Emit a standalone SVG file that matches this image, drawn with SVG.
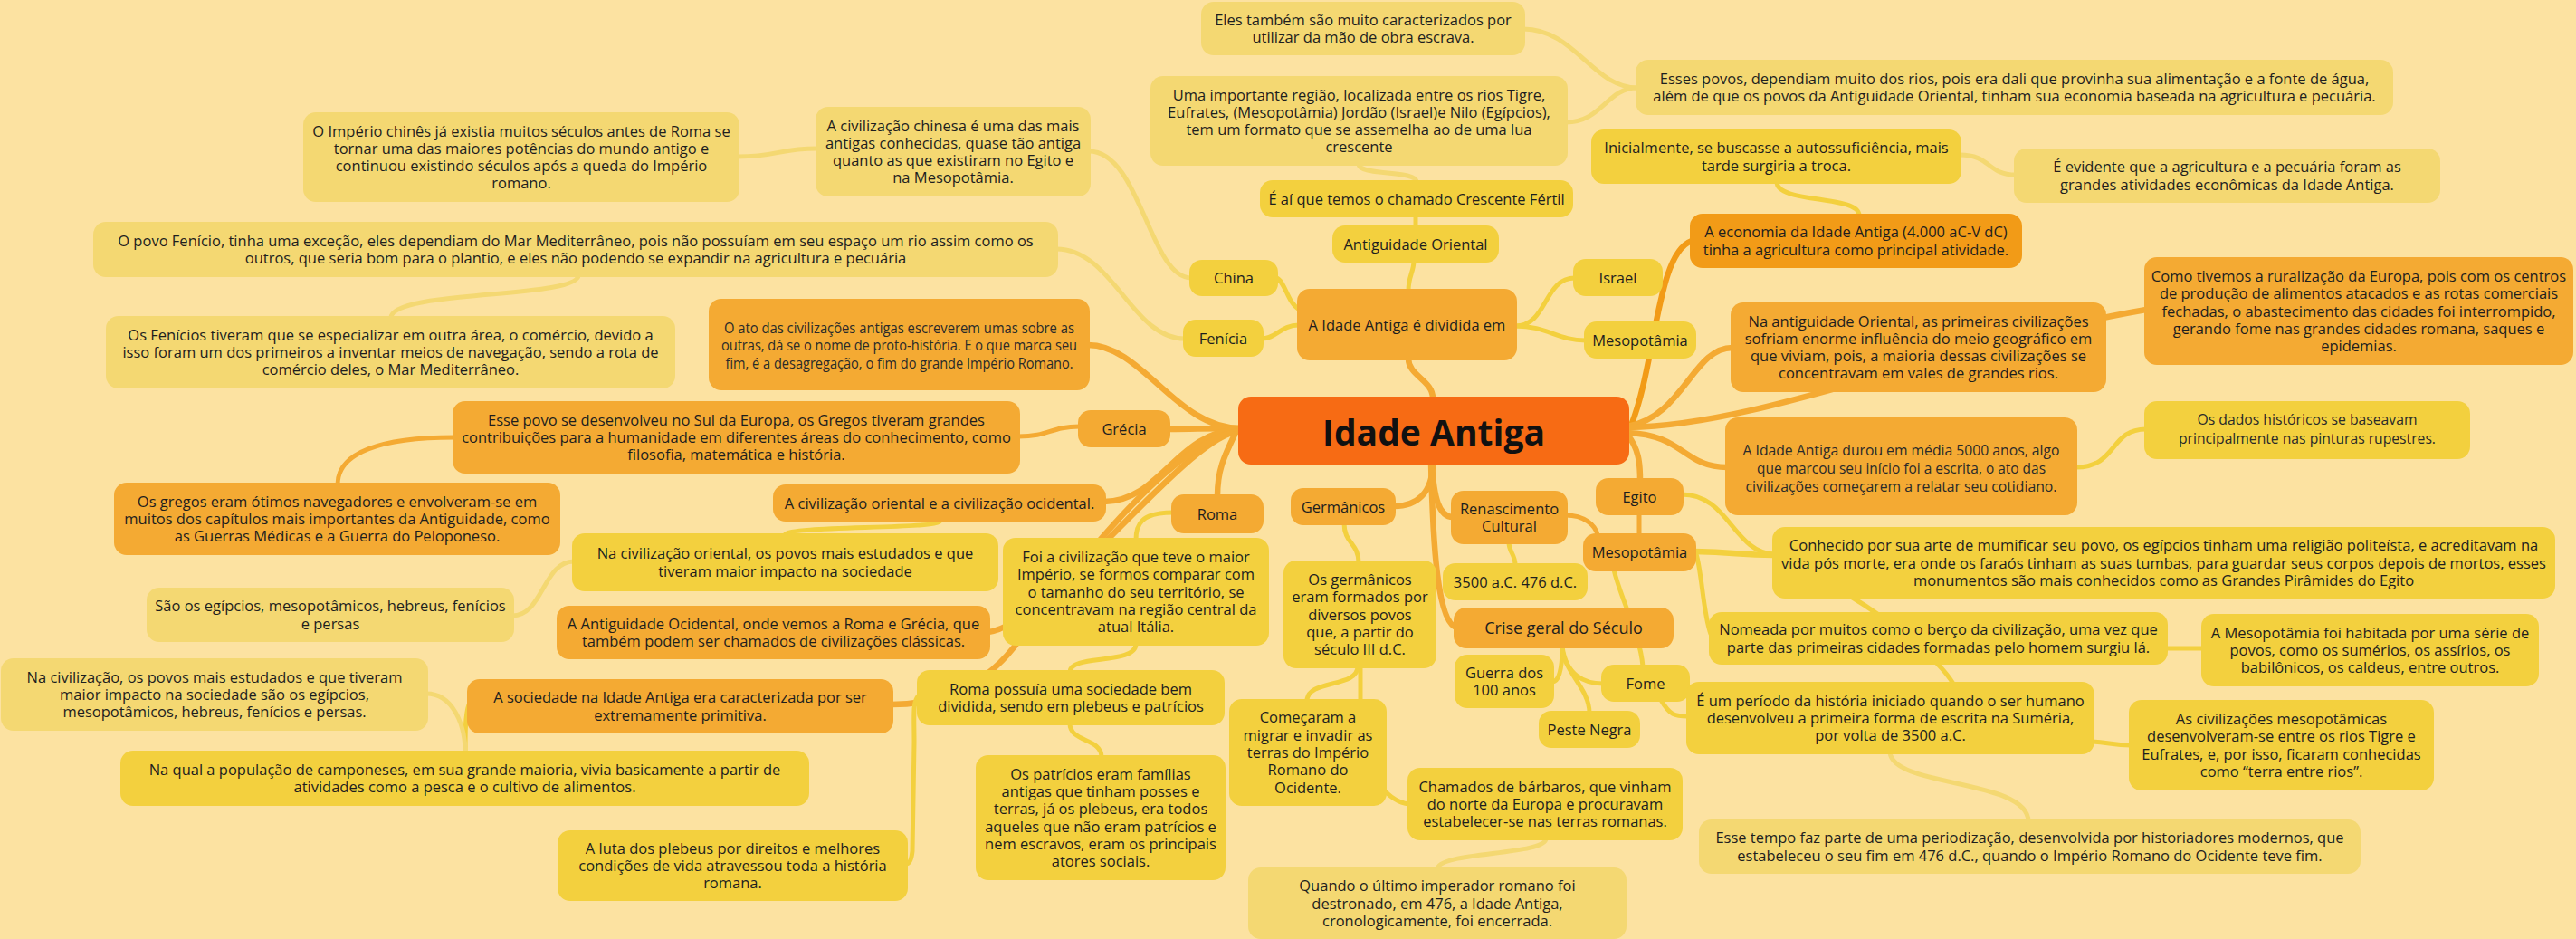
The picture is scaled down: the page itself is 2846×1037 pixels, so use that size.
<svg xmlns="http://www.w3.org/2000/svg" width="2846" height="1037" viewBox="0 0 2846 1037">
<style>
  .bg { fill: #FCE2A1; }
  .node rect { rx: 14px; ry: 14px; }
  .pale rect { fill: #F4D872; }
  .med rect { fill: #F3D03E; }
  .org rect { fill: #F4AA33; }
  .dark rect { fill: #F29B17; }
  .root rect { fill: #F76B14; }
  text { font-family: "Open Sans", "Noto Sans", "Liberation Sans", sans-serif; font-size: 16.5px; fill: #1e1e1e; text-anchor: middle; }
  .root text { font-size: 39px; font-weight: 700; fill: #111; }
  .thin text { font-size: 17px; fill: #2a2a2a; }
  .big text { font-size: 18px; }
  #links path { fill: none; stroke-linecap: round; stroke-width: 5; }
  #links .trunk { stroke-width: 6.5; }
  .l-pale { stroke: #F4D872; }
  .l-med { stroke: #F3D03E; }
  .l-org { stroke: #F4AA33; }
  .l-dark { stroke: #F29B17; }
</style>
<rect class="bg" x="0" y="0" width="2846" height="1037"/>

<!-- connectors -->
<g id="links">
  <!-- from the central topic -->
  <path class="l-org trunk" d="M1583,440 C1583,420 1556,415 1556,396"/>
  <path class="l-org trunk" d="M1370,473 C1300,473 1262,381 1202,381"/>
  <path class="l-org trunk" d="M1370,473 C1330,473 1320,474 1291,474"/>
  <path class="l-org trunk" d="M1370,474 C1300,476 1282,554 1220,554"/>
  <path class="l-org trunk" d="M1370,476 C1310,480 1160,690 1092,698"/>
  <path class="l-org trunk" d="M1370,476 C1300,485 1200,610 1120,715 C1080,765 1030,778 985,778"/>
  <path class="l-org trunk" d="M1364,480 C1352,505 1345,520 1345,548"/>
  <path class="l-org trunk" d="M1583,511 C1583,545 1565,559 1540,559"/>
  <path class="l-org trunk" d="M1581,511 C1583,600 1588,690 1610,693"/>
  <path class="l-org trunk" d="M1582,511 C1584,550 1590,571 1605,571"/>
  <path class="l-dark trunk" d="M1802,470 C1830,400 1830,280 1869,266"/>
  <path class="l-org trunk" d="M1798,471 C1860,460 1870,384 1914,384"/>
  <path class="l-org trunk" d="M1798,472 C1950,470 2150,380 2371,342"/>
  <path class="l-org trunk" d="M1798,478 C1860,480 1860,516 1908,516"/>
  <path class="l-org trunk" d="M1798,480 C1810,495 1812,510 1812,530"/>

  <!-- eastern branch: division, economy, crescent -->
  <path class="l-med" d="M1556,321 C1556,305 1562,300 1562,288"/>
  <path class="l-med" d="M1564,251 L1564,238"/>
  <path class="l-pale" d="M1501,181 C1501,195 1565,187 1565,201"/>
  <path class="l-pale" d="M1730,135 C1770,135 1775,97 1809,97"/>
  <path class="l-pale" d="M1683,32 C1740,32 1760,97 1809,97"/>
  <path class="l-med" d="M1410,307 C1420,310 1422,335 1436,342"/>
  <path class="l-med" d="M1394,374 C1410,374 1415,359 1435,359"/>
  <path class="l-pale" d="M1167,275 C1230,275 1250,374 1309,374"/>
  <path class="l-pale" d="M639,304 C639,330 432,320 432,351"/>
  <path class="l-pale" d="M815,173 C860,173 860,164 903,164"/>
  <path class="l-pale" d="M1203,167 C1260,167 1270,307 1316,307"/>
  <path class="l-med" d="M1674,360 C1710,360 1705,307 1740,307"/>
  <path class="l-med" d="M1674,360 C1710,360 1720,376 1752,376"/>
  <path class="l-med" d="M1963,201 C1963,225 2054,215 2054,238"/>
  <path class="l-pale" d="M2165,171 C2200,171 2195,193 2227,193"/>
  <path class="l-med" d="M2293,516 C2340,516 2330,474 2371,474"/>

  <!-- Egypt / Mesopotamia / crisis -->
  <path class="l-org" d="M1811,567 L1811,591"/>
  <path class="l-med" d="M1858,546 C1910,546 1915,610 1960,612"/>
  <path class="l-med trunk" d="M1872,609 C1920,610 1920,613 1960,613"/>
  <path class="l-med" d="M2045,659 C2080,680 2140,725 2158,755"/>
  <path class="l-med" d="M1874,612 C1880,630 1882,680 1890,700"/>
  <path class="l-med" d="M1783,629 C1790,660 1812,700 1815,736"/>
  <path class="l-med" d="M1835,773 C1845,790 1850,791 1865,791"/>
  <path class="l-med" d="M1726,714 C1726,740 1722,753 1715,753"/>
  <path class="l-med" d="M1726,714 C1730,745 1750,755 1771,755"/>
  <path class="l-med" d="M1726,714 C1726,740 1756,760 1756,787"/>
  <path class="l-org" d="M1730,569 C1750,569 1763,580 1765,591"/>
  <path class="l-med" d="M1667,599 C1667,610 1674,612 1674,624"/>
  <path class="l-med" d="M1485,578 C1485,600 1501,600 1501,621"/>
  <path class="l-med" d="M1500,736 C1500,760 1444,750 1444,774"/>
  <path class="l-med" d="M1503,736 L1503,780 C1503,850 1530,885 1557,888"/>
  <path class="l-pale" d="M1708,926 C1708,945 1588,940 1588,960"/>
  <path class="l-med" d="M2393,716 L2434,716"/>
  <path class="l-med" d="M2312,819 C2330,820 2335,823 2354,823"/>
  <path class="l-pale" d="M2088,831 C2092,870 2240,860 2241,907"/>

  <!-- western branch: Greece, Rome, societies -->
  <path class="l-org" d="M1125,482 C1160,482 1160,471 1193,471"/>
  <path class="l-org" d="M502,483 C420,483 373,500 373,535"/>
  <path class="l-med" d="M1039,575 C1039,585 867,580 867,591"/>
  <path class="l-pale" d="M634,620 C600,620 600,680 566,680"/>
  <path class="l-med" d="M1296,566 C1260,566 1255,580 1255,596"/>
  <path class="l-med" d="M1255,711 C1255,735 1182,722 1182,742"/>
  <path class="l-med" d="M1182,799 C1182,820 1217,815 1217,836"/>
  <path class="l-med" d="M1015,768 C1008,775 1010,790 1010,820 L1008,940 C1007,950 1005,954 1001,954"/>
  <path class="l-med" d="M518,778 C514,790 514,810 514,831"/>
  <path class="l-pale" d="M471,766 C500,766 514,800 514,831"/>
</g>

<!-- nodes -->
<g id="n-imperio-chines" class="node pale"><rect x="335" y="124" width="482" height="99"/><text><tspan x="576" y="150.5">O Império chinês já existia muitos séculos antes de Roma se</tspan><tspan x="576" y="169.8">tornar uma das maiores potências do mundo antigo e</tspan><tspan x="576" y="189.1">continuou existindo séculos após a queda do Império</tspan><tspan x="576" y="208.4">romano.</tspan></text></g>
<g id="n-civ-chinesa" class="node pale"><rect x="901" y="118" width="304" height="99"/><text><tspan x="1053" y="144.5">A civilização chinesa é uma das mais</tspan><tspan x="1053" y="163.8">antigas conhecidas, quase tão antiga</tspan><tspan x="1053" y="183.1">quanto as que existiram no Egito e</tspan><tspan x="1053" y="202.4">na Mesopotâmia.</tspan></text></g>
<g id="n-povo-fenicio" class="node pale"><rect x="103" y="245" width="1066" height="61"/><text><tspan x="636" y="271.9">O povo Fenício, tinha uma exceção, eles dependiam do Mar Mediterrâneo, pois não possuíam em seu espaço um rio assim como os</tspan><tspan x="636" y="291.2">outros, que seria bom para o plantio, e eles não podendo se expandir na agricultura e pecuária</tspan></text></g>
<g id="n-fenicios-comercio" class="node pale"><rect x="117" y="349" width="629" height="80"/><text><tspan x="431.5" y="375.7">Os Fenícios tiveram que se especializar em outra área, o comércio, devido a</tspan><tspan x="431.5" y="395">isso foram um dos primeiros a inventar meios de navegação, sendo a rota de</tspan><tspan x="431.5" y="414.3">comércio deles, o Mar Mediterrâneo.</tspan></text></g>
<g id="n-mao-de-obra" class="node pale"><rect x="1327" y="2" width="358" height="59"/><text><tspan x="1506" y="27.9">Eles também são muito caracterizados por</tspan><tspan x="1506" y="47.2">utilizar da mão de obra escrava.</tspan></text></g>
<g id="n-regiao-rios" class="node pale"><rect x="1271" y="84" width="461" height="99"/><text><tspan x="1501.5" y="110.5">Uma importante região, localizada entre os rios Tigre,</tspan><tspan x="1501.5" y="129.8">Eufrates, (Mesopotâmia) Jordão (Israel)e Nilo (Egípcios),</tspan><tspan x="1501.5" y="149.1">tem um formato que se assemelha ao de uma lua</tspan><tspan x="1501.5" y="168.4">crescente</tspan></text></g>
<g id="n-crescente" class="node med"><rect x="1392" y="199" width="346" height="41"/><text><tspan x="1565" y="225.5">É aí que temos o chamado Crescente Fértil</tspan></text></g>
<g id="n-antiguidade-oriental" class="node med"><rect x="1472" y="249" width="184" height="41"/><text><tspan x="1564" y="275.5">Antiguidade Oriental</tspan></text></g>
<g id="n-esses-povos" class="node pale"><rect x="1807" y="66" width="837" height="61"/><text><tspan x="2225.5" y="92.9">Esses povos, dependiam muito dos rios, pois era dali que provinha sua alimentação e a fonte de água,</tspan><tspan x="2225.5" y="112.2">além de que os povos da Antiguidade Oriental, tinham sua economia baseada na agricultura e pecuária.</tspan></text></g>
<g id="n-inicialmente" class="node med"><rect x="1758" y="143" width="409" height="60"/><text><tspan x="1962.5" y="169.4">Inicialmente, se buscasse a autossuficiência, mais</tspan><tspan x="1962.5" y="188.7">tarde surgiria a troca.</tspan></text></g>
<g id="n-evidente" class="node pale"><rect x="2225" y="164" width="471" height="60"/><text><tspan x="2460.5" y="190.4">É evidente que a agricultura e a pecuária foram as</tspan><tspan x="2460.5" y="209.7">grandes atividades econômicas da Idade Antiga.</tspan></text></g>
<g id="n-economia" class="node dark"><rect x="1867" y="236" width="367" height="60"/><text><tspan x="2050.5" y="262.4">A economia da Idade Antiga (4.000 aC-V dC)</tspan><tspan x="2050.5" y="281.7">tinha a agricultura como principal atividade.</tspan></text></g>
<g id="n-israel" class="node med"><rect x="1738" y="286" width="99" height="41"/><text><tspan x="1787.5" y="312.5">Israel</tspan></text></g>
<g id="n-china" class="node med"><rect x="1314" y="287" width="98" height="40"/><text><tspan x="1363" y="313">China</tspan></text></g>
<g id="n-dividida" class="node org"><rect x="1433" y="319" width="243" height="79"/><text><tspan x="1554.5" y="364.5">A Idade Antiga é dividida em</tspan></text></g>
<g id="n-fenicia" class="node med"><rect x="1307" y="353" width="89" height="41"/><text><tspan x="1351.5" y="379.5">Fenícia</tspan></text></g>
<g id="n-proto-historia" class="node org thin"><rect x="783" y="330" width="421" height="101"/><text><tspan x="993.5" y="367.5" textLength="387" lengthAdjust="spacingAndGlyphs">O ato das civilizações antigas escreverem umas sobre as</tspan><tspan x="993.5" y="387" textLength="393" lengthAdjust="spacingAndGlyphs">outras, dá se o nome de proto-história. E o que marca seu</tspan><tspan x="993.5" y="406.5" textLength="384" lengthAdjust="spacingAndGlyphs">fim, é a desagregação, o fim do grande Império Romano.</tspan></text></g>
<g id="n-mesopotamia-a" class="node med"><rect x="1750" y="355" width="124" height="41"/><text><tspan x="1812" y="381.5">Mesopotâmia</tspan></text></g>
<g id="n-antiguidade-vales" class="node org"><rect x="1912" y="334" width="415" height="99"/><text><tspan x="2119.5" y="360.5">Na antiguidade Oriental, as primeiras civilizações</tspan><tspan x="2119.5" y="379.8">sofriam enorme influência do meio geográfico em</tspan><tspan x="2119.5" y="399.1">que viviam, pois, a maioria dessas civilizações se</tspan><tspan x="2119.5" y="418.4">concentravam em vales de grandes rios.</tspan></text></g>
<g id="n-ruralizacao" class="node org"><rect x="2369" y="284" width="474" height="119"/><text><tspan x="2606" y="310.9">Como tivemos a ruralização da Europa, pois com os centros</tspan><tspan x="2606" y="330.2">de produção de alimentos atacados e as rotas comerciais</tspan><tspan x="2606" y="349.5">fechadas, o abastecimento das cidades foi interrompido,</tspan><tspan x="2606" y="368.8">gerando fome nas grandes cidades romana, saques e</tspan><tspan x="2606" y="388.1">epidemias.</tspan></text></g>
<g id="n-idade-antiga" class="node root"><rect x="1368" y="438" width="432" height="75"/><text><tspan x="1584" y="492">Idade Antiga</tspan></text></g>
<g id="n-grecia" class="node org"><rect x="1191" y="453" width="102" height="41"/><text><tspan x="1242" y="479.5">Grécia</tspan></text></g>
<g id="n-sul-europa" class="node org"><rect x="500" y="443" width="627" height="80"/><text><tspan x="813.5" y="469.7">Esse povo se desenvolveu no Sul da Europa, os Gregos tiveram grandes</tspan><tspan x="813.5" y="489">contribuições para a humanidade em diferentes áreas do conhecimento, como</tspan><tspan x="813.5" y="508.3">filosofia, matemática e história.</tspan></text></g>
<g id="n-navegadores" class="node org"><rect x="126" y="533" width="493" height="80"/><text><tspan x="372.5" y="559.7">Os gregos eram ótimos navegadores e envolveram-se em</tspan><tspan x="372.5" y="579">muitos dos capítulos mais importantes da Antiguidade, como</tspan><tspan x="372.5" y="598.3">as Guerras Médicas e a Guerra do Peloponeso.</tspan></text></g>
<g id="n-oriental-ocidental" class="node org"><rect x="854" y="535" width="368" height="41"/><text><tspan x="1038" y="561.5">A civilização oriental e a civilização ocidental.</tspan></text></g>
<g id="n-cinco-mil-anos" class="node org thin"><rect x="1906" y="461" width="389" height="108"/><text><tspan x="2100.5" y="503" textLength="350" lengthAdjust="spacingAndGlyphs">A Idade Antiga durou em média 5000 anos, algo</tspan><tspan x="2100.5" y="523" textLength="319" lengthAdjust="spacingAndGlyphs">que marcou seu início foi a escrita, o ato das</tspan><tspan x="2100.5" y="543" textLength="344" lengthAdjust="spacingAndGlyphs">civilizações começarem a relatar seu cotidiano.</tspan></text></g>
<g id="n-pinturas" class="node med thin"><rect x="2369" y="443" width="360" height="64"/><text><tspan x="2549" y="469" textLength="243" lengthAdjust="spacingAndGlyphs">Os dados históricos se baseavam</tspan><tspan x="2549" y="490" textLength="284" lengthAdjust="spacingAndGlyphs">principalmente nas pinturas rupestres.</tspan></text></g>
<g id="n-egito" class="node org"><rect x="1763" y="528" width="97" height="41"/><text><tspan x="1811.5" y="554.5">Egito</tspan></text></g>
<g id="n-roma" class="node org"><rect x="1294" y="546" width="102" height="43"/><text><tspan x="1345" y="573.5">Roma</tspan></text></g>
<g id="n-germanicos" class="node org"><rect x="1426" y="539" width="116" height="41"/><text><tspan x="1484" y="565.5">Germânicos</tspan></text></g>
<g id="n-renascimento" class="node org"><rect x="1603" y="542" width="129" height="59"/><text><tspan x="1667.5" y="567.9">Renascimento</tspan><tspan x="1667.5" y="587.2">Cultural</tspan></text></g>
<g id="n-mumificar" class="node med"><rect x="1958" y="582" width="865" height="79"/><text><tspan x="2390.5" y="608.2">Conhecido por sua arte de mumificar seu povo, os egípcios tinham uma religião politeísta, e acreditavam na</tspan><tspan x="2390.5" y="627.5">vida pós morte, era onde os faraós tinham as suas tumbas, para guardar seus corpos depois de mortos, esses</tspan><tspan x="2390.5" y="646.8">monumentos são mais conhecidos como as Grandes Pirâmides do Egito</tspan></text></g>
<g id="n-mesopotamia-b" class="node org"><rect x="1749" y="589" width="125" height="42"/><text><tspan x="1811.5" y="616">Mesopotâmia</tspan></text></g>
<g id="n-povos-estudados" class="node med"><rect x="632" y="589" width="471" height="64"/><text><tspan x="867.5" y="617.4">Na civilização oriental, os povos mais estudados e que</tspan><tspan x="867.5" y="636.7">tiveram maior impacto na sociedade</tspan></text></g>
<g id="n-maior-imperio" class="node med"><rect x="1108" y="594" width="294" height="119"/><text><tspan x="1255" y="620.9">Foi a civilização que teve o maior</tspan><tspan x="1255" y="640.2">Império, se formos comparar com</tspan><tspan x="1255" y="659.5">o tamanho do seu território, se</tspan><tspan x="1255" y="678.8">concentravam na região central da</tspan><tspan x="1255" y="698.1">atual Itália.</tspan></text></g>
<g id="n-povos-germanicos" class="node med"><rect x="1418" y="619" width="169" height="119"/><text><tspan x="1502.5" y="645.9">Os germânicos</tspan><tspan x="1502.5" y="665.2">eram formados por</tspan><tspan x="1502.5" y="684.5">diversos povos</tspan><tspan x="1502.5" y="703.8">que, a partir do</tspan><tspan x="1502.5" y="723.1">século III d.C.</tspan></text></g>
<g id="n-datas" class="node med"><rect x="1594" y="622" width="160" height="41"/><text><tspan x="1674" y="648.5">3500 a.C. 476 d.C.</tspan></text></g>
<g id="n-egipcios" class="node pale"><rect x="162" y="649" width="406" height="60"/><text><tspan x="365" y="675.4">São os egípcios, mesopotâmicos, hebreus, fenícios</tspan><tspan x="365" y="694.7">e persas</tspan></text></g>
<g id="n-antiguidade-ocidental" class="node org"><rect x="615" y="669" width="479" height="59"/><text><tspan x="854.5" y="694.9">A Antiguidade Ocidental, onde vemos a Roma e Grécia, que</tspan><tspan x="854.5" y="714.2">também podem ser chamados de civilizações clássicas.</tspan></text></g>
<g id="n-crise" class="node org big"><rect x="1606" y="671" width="243" height="45"/><text><tspan x="1727.5" y="700">Crise geral do Século</tspan></text></g>
<g id="n-berco" class="node med"><rect x="1888" y="676" width="507" height="58"/><text><tspan x="2141.5" y="701.4">Nomeada por muitos como o berço da civilização, uma vez que</tspan><tspan x="2141.5" y="720.7">parte das primeiras cidades formadas pelo homem surgiu lá.</tspan></text></g>
<g id="n-sumerios" class="node med"><rect x="2432" y="678" width="373" height="80"/><text><tspan x="2618.5" y="704.7">A Mesopotâmia foi habitada por uma série de</tspan><tspan x="2618.5" y="724">povos, como os sumérios, os assírios, os</tspan><tspan x="2618.5" y="743.3">babilônicos, os caldeus, entre outros.</tspan></text></g>
<g id="n-guerra" class="node med"><rect x="1607" y="723" width="110" height="59"/><text><tspan x="1662" y="748.9">Guerra dos</tspan><tspan x="1662" y="768.2">100 anos</tspan></text></g>
<g id="n-fome" class="node med"><rect x="1769" y="734" width="98" height="41"/><text><tspan x="1818" y="760.5">Fome</tspan></text></g>
<g id="n-impacto" class="node pale"><rect x="1" y="727" width="472" height="80"/><text><tspan x="237" y="753.7">Na civilização, os povos mais estudados e que tiveram</tspan><tspan x="237" y="773">maior impacto na sociedade são os egípcios,</tspan><tspan x="237" y="792.3">mesopotâmicos, hebreus, fenícios e persas.</tspan></text></g>
<g id="n-sociedade" class="node org"><rect x="516" y="750" width="471" height="60"/><text><tspan x="751.5" y="776.4">A sociedade na Idade Antiga era caracterizada por ser</tspan><tspan x="751.5" y="795.7">extremamente primitiva.</tspan></text></g>
<g id="n-plebeus-patricios" class="node med"><rect x="1013" y="740" width="340" height="61"/><text><tspan x="1183" y="766.9">Roma possuía uma sociedade bem</tspan><tspan x="1183" y="786.2">dividida, sendo em plebeus e patrícios</tspan></text></g>
<g id="n-peste" class="node med"><rect x="1700" y="785" width="112" height="41"/><text><tspan x="1756" y="811.5">Peste Negra</tspan></text></g>
<g id="n-escrita-sumeria" class="node med"><rect x="1863" y="753" width="451" height="80"/><text><tspan x="2088.5" y="779.7">É um período da história iniciado quando o ser humano</tspan><tspan x="2088.5" y="799">desenvolveu a primeira forma de escrita na Suméria,</tspan><tspan x="2088.5" y="818.3">por volta de 3500 a.C.</tspan></text></g>
<g id="n-invasao" class="node med"><rect x="1358" y="772" width="174" height="118"/><text><tspan x="1445" y="798.4">Começaram a</tspan><tspan x="1445" y="817.7">migrar e invadir as</tspan><tspan x="1445" y="837">terras do Império</tspan><tspan x="1445" y="856.3">Romano do</tspan><tspan x="1445" y="875.6">Ocidente.</tspan></text></g>
<g id="n-terra-entre-rios" class="node med"><rect x="2352" y="773" width="337" height="100"/><text><tspan x="2520.5" y="800">As civilizações mesopotâmicas</tspan><tspan x="2520.5" y="819.3">desenvolveram-se entre os rios Tigre e</tspan><tspan x="2520.5" y="838.6">Eufrates, e, por isso, ficaram conhecidas</tspan><tspan x="2520.5" y="857.9">como “terra entre rios”.</tspan></text></g>
<g id="n-camponeses" class="node med"><rect x="133" y="829" width="761" height="61"/><text><tspan x="513.5" y="855.9">Na qual a população de camponeses, em sua grande maioria, vivia basicamente a partir de</tspan><tspan x="513.5" y="875.2">atividades como a pesca e o cultivo de alimentos.</tspan></text></g>
<g id="n-patricios" class="node med"><rect x="1078" y="834" width="276" height="138"/><text><tspan x="1216" y="860.8">Os patrícios eram famílias</tspan><tspan x="1216" y="880.1">antigas que tinham posses e</tspan><tspan x="1216" y="899.4">terras, já os plebeus, era todos</tspan><tspan x="1216" y="918.7">aqueles que não eram patrícios e</tspan><tspan x="1216" y="938">nem escravos, eram os principais</tspan><tspan x="1216" y="957.3">atores sociais.</tspan></text></g>
<g id="n-barbaros" class="node med"><rect x="1555" y="848" width="304" height="80"/><text><tspan x="1707" y="874.7">Chamados de bárbaros, que vinham</tspan><tspan x="1707" y="894">do norte da Europa e procuravam</tspan><tspan x="1707" y="913.3">estabelecer-se nas terras romanas.</tspan></text></g>
<g id="n-periodizacao" class="node pale"><rect x="1877" y="905" width="731" height="60"/><text><tspan x="2242.5" y="931.4">Esse tempo faz parte de uma periodização, desenvolvida por historiadores modernos, que</tspan><tspan x="2242.5" y="950.7">estabeleceu o seu fim em 476 d.C., quando o Império Romano do Ocidente teve fim.</tspan></text></g>
<g id="n-luta-plebeus" class="node med"><rect x="616" y="917" width="387" height="78"/><text><tspan x="809.5" y="942.7">A luta dos plebeus por direitos e melhores</tspan><tspan x="809.5" y="962">condições de vida atravessou toda a história</tspan><tspan x="809.5" y="981.3">romana.</tspan></text></g>
<g id="n-ultimo-imperador" class="node pale"><rect x="1379" y="958" width="418" height="79"/><text><tspan x="1588" y="984.2">Quando o último imperador romano foi</tspan><tspan x="1588" y="1003.5">destronado, em 476, a Idade Antiga,</tspan><tspan x="1588" y="1022.8">cronologicamente, foi encerrada.</tspan></text></g>
</svg>
